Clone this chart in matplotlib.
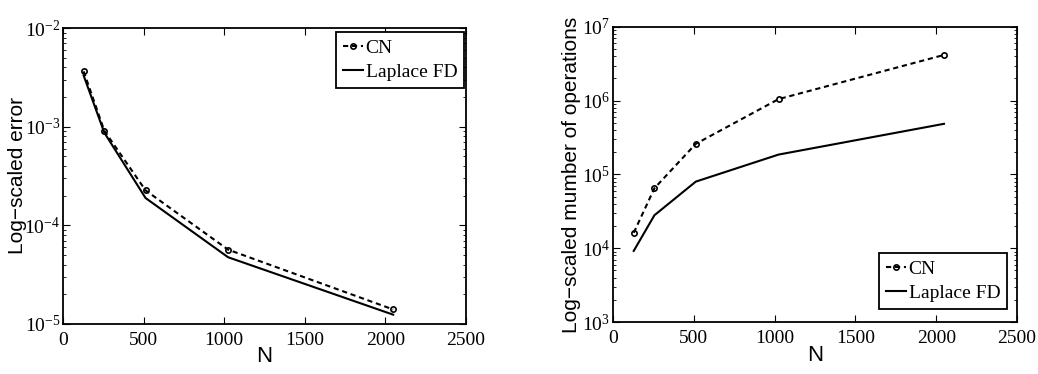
import numpy as np
import matplotlib
matplotlib.use("Agg")
import matplotlib.pyplot as plt
from matplotlib.ticker import LogLocator, NullFormatter

N = [128, 256, 512, 1024, 2048]

# left panel: error
err_cn = [3.64e-3, 9.1e-4, 2.26e-4, 5.66e-5, 1.40e-5]
err_fd = [3.3e-3, 8.7e-4, 1.89e-4, 4.74e-5, 1.24e-5]

# right panel: number of operations
ops_cn = [1.62e4, 6.5e4, 2.6e5, 1.05e6, 4.17e6]
ops_fd = [9.2e3, 2.8e4, 8.0e4, 1.86e5, 4.86e5]

serif = "Liberation Serif"
sans = "Liberation Sans"

fig = plt.figure(figsize=(10.38, 3.74), dpi=100)
ax1 = fig.add_axes([0.0607, 0.134, 0.3883, 0.791])
ax2 = fig.add_axes([0.5906, 0.139, 0.3892, 0.789])


def style(ax, ylim, ylabel, legloc, legxy, labx):
    ax.set_yscale("log")
    ax.set_xlim(0, 2500)
    ax.set_ylim(*ylim)
    ax.set_xticks([0, 500, 1000, 1500, 2000, 2500])
    ax.yaxis.set_major_locator(LogLocator(base=10, numticks=10))
    ax.yaxis.set_minor_locator(LogLocator(base=10, subs=np.arange(2, 10), numticks=20))
    ax.yaxis.set_minor_formatter(NullFormatter())
    ax.tick_params(which="both", direction="in", top=True, right=True)
    ax.tick_params(which="major", length=5, labelsize=14)
    ax.tick_params(axis="x", pad=6)
    ax.tick_params(axis="y", pad=2)
    ax.tick_params(which="minor", length=2.5)
    for lab in ax.get_xticklabels() + ax.get_yticklabels():
        lab.set_fontfamily(serif)
    for s in ax.spines.values():
        s.set_linewidth(1.3)
    ax.set_xlabel("N", fontfamily=sans, fontsize=16, labelpad=-2)
    ax.set_ylabel(ylabel, fontfamily=sans, fontsize=15)
    ax.yaxis.set_label_coords(labx, 0.5)
    leg = ax.legend(loc=legloc, bbox_to_anchor=legxy, prop={"family": serif, "size": 14},
                    handlelength=1.0, handletextpad=0.15, borderaxespad=0,
                    fancybox=False, framealpha=1, edgecolor="black",
                    labelspacing=0.35, borderpad=0.35)
    leg.get_frame().set_linewidth(1.3)


for ax, cn, fd in [(ax1, err_cn, err_fd), (ax2, ops_cn, ops_fd)]:
    ax.plot(N, cn, color="black", lw=1.5, dashes=(2.5, 1.8), marker="o",
            ms=3.8, mfc="none", mew=1.2, label="CN")
    ax.plot(N, fd, color="black", lw=1.5, label="Laplace FD")

style(ax1, (1e-5, 1e-2), "Log\u2212scaled error", "upper right", (0.995, 0.986), -0.09)
style(ax2, (1e3, 1e7), "Log\u2212scaled mumber of operations", "lower right", (0.975, 0.044), -0.08)

fig.savefig("out.png", dpi=100)
